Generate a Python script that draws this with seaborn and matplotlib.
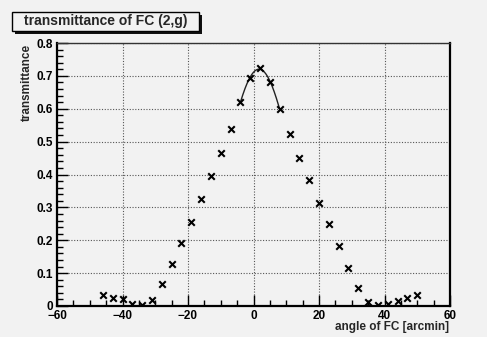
import numpy as np
import pandas as pd
import matplotlib
matplotlib.use("Agg")
import matplotlib.pyplot as plt
import seaborn as sns
from matplotlib.ticker import MultipleLocator
from matplotlib.patches import Rectangle

# Scan of the FC (2,g) transmittance versus angle
angle = [-46, -43, -40, -37, -34, -31, -28, -25, -22, -19, -16, -13, -10, -7, -4, -1,
         2, 5, 8, 11, 14, 17, 20, 23, 26, 29, 32, 35, 38, 41, 44, 47, 50]
transmittance = [0.033, 0.025, 0.021, 0.006, 0.003, 0.018, 0.067, 0.128, 0.191, 0.256,
                 0.326, 0.394, 0.466, 0.537, 0.620, 0.694, 0.725, 0.681, 0.599, 0.522,
                 0.450, 0.382, 0.314, 0.248, 0.183, 0.117, 0.056, 0.013, 0.003, 0.007,
                 0.016, 0.025, 0.033]
fit_range = [-4, 8]
title = "transmittance of FC (2,g)"
xlabel = "angle of FC [arcmin]"
ylabel = "transmittance"

df = pd.DataFrame({"angle": angle, "transmittance": transmittance})

# Gaussian fit of the peak region (quadratic in log space)
peak = df[(df.angle >= fit_range[0]) & (df.angle <= fit_range[1])]
coef = np.polyfit(peak.angle, np.log(peak.transmittance), 2)
xf = np.linspace(fit_range[0], fit_range[1], 200)
fit_df = pd.DataFrame({"angle": xf, "transmittance": np.exp(np.polyval(coef, xf))})

bg = "#f2f2f2"
sns.set_theme(style="ticks")
plt.rcParams["font.family"] = ["Liberation Sans", "DejaVu Sans"]
plt.rcParams["font.weight"] = "bold"

fig = plt.figure(figsize=(4.87, 3.37), dpi=100, facecolor=bg)
ax = fig.add_axes([57 / 487, 1 - 306 / 337, (450 - 57) / 487, (306 - 43) / 337])
ax.set_facecolor(bg)

sns.lineplot(data=fit_df, x="angle", y="transmittance", ax=ax, color="#222222",
             lw=1.0, zorder=3)
sns.scatterplot(data=df, x="angle", y="transmittance", ax=ax, marker="x", s=22,
                color="black", linewidth=1.5, zorder=4)

ax.set_xlim(-60, 60)
ax.set_ylim(0, 0.8)
ax.xaxis.set_major_locator(MultipleLocator(20))
ax.xaxis.set_minor_locator(MultipleLocator(5))
ax.yaxis.set_major_locator(MultipleLocator(0.1))
ax.yaxis.set_minor_locator(MultipleLocator(0.02))
ax.set_yticks(np.arange(0, 0.81, 0.1))
ax.set_yticklabels(["0"] + [f"{v:.1f}" for v in np.arange(0.1, 0.81, 0.1)])

ax.tick_params(which="both", direction="in", top=False, right=False,
               labelsize=8.5, colors="black", width=1.0, pad=3)
ax.tick_params(which="major", length=8)
ax.tick_params(which="minor", length=4)
for lab in ax.get_xticklabels() + ax.get_yticklabels():
    lab.set_fontweight("bold")

ax.grid(True, which="major", color="#555555", linestyle=(0, (1, 1.5)), lw=0.8)
for side in ["left", "bottom", "right"]:
    ax.spines[side].set_linewidth(1.6)
    ax.spines[side].set_color("black")
ax.spines["top"].set_linewidth(1.0)
ax.spines["top"].set_color("#333333")

ax.set_xlabel("")
ax.set_ylabel("")
fig.text(449 / 487, 1 - 327 / 337, xlabel, ha="right", va="center",
         fontsize=8.5, fontweight="bold")
fig.text(27 / 487, 1 - 44 / 337, ylabel, ha="center", va="top", rotation=90,
         fontsize=8.5, fontweight="bold")

# Title box with drop shadow
bx0, by0, bx1, by1 = 12, 12, 199, 31
shadow = Rectangle((((bx0 + 3) / 487), 1 - (by1 + 3) / 337), (bx1 - bx0) / 487,
                   (by1 - by0) / 337, transform=fig.transFigure, facecolor="#111111",
                   edgecolor="none", zorder=5)
box = Rectangle((bx0 / 487, 1 - by1 / 337), (bx1 - bx0) / 487, (by1 - by0) / 337,
                transform=fig.transFigure, facecolor=bg, edgecolor="black", lw=1.0,
                zorder=6)
fig.patches.extend([shadow, box])
fig.text((bx0 + bx1) / 2 / 487, 1 - (by0 + by1) / 2 / 337, title, ha="center",
         va="center", fontsize=10, fontweight="bold", zorder=7)

fig.savefig("out.png", dpi=100, facecolor=bg)
